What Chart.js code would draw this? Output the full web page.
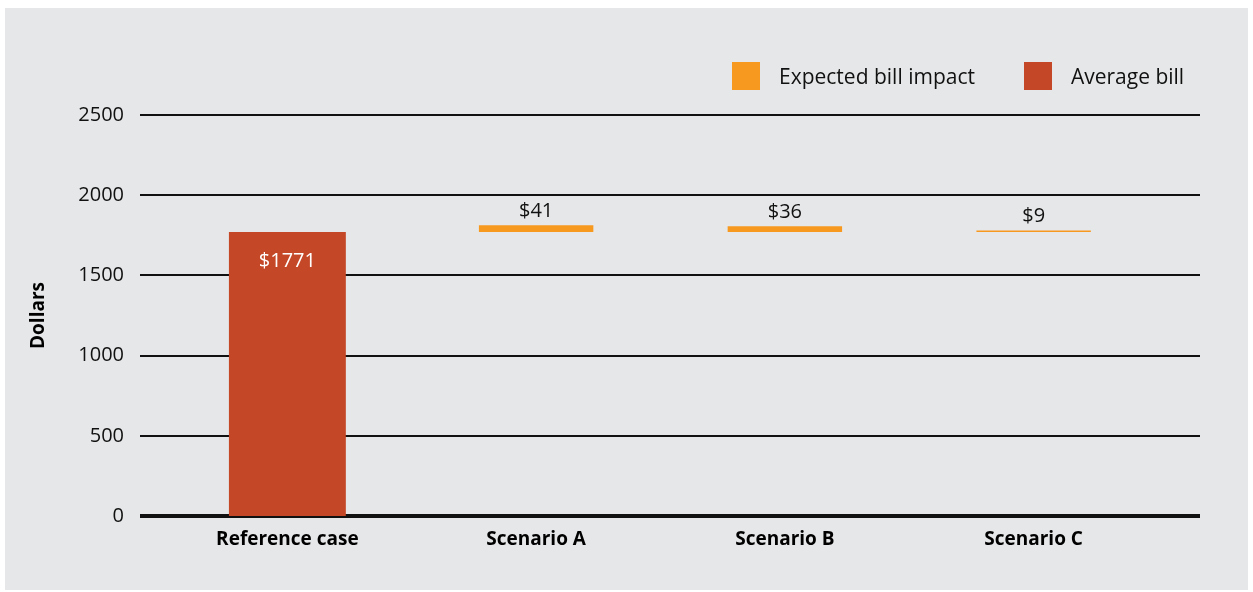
<!DOCTYPE html>
<html>
<head>
<meta charset="utf-8">
<script src="https://cdn.jsdelivr.net/npm/chart.js@4"></script>
<style>
  body { margin: 0; background: #fff; }
  #panel { position: absolute; left: 5px; top: 8px; width: 1243px; height: 582px; background: #e6e7e8; }
  #wrap { position: absolute; left: 0; top: 0; width: 1253px; height: 592px; }
  #legend { position: absolute; top: 62px; left: 732px; font-family: 'Open Sans', sans-serif; font-size: 21px; color: #111; display: flex; }
  .item { display: flex; align-items: center; height: 28px; }
  .box { width: 28px; height: 28px; margin-right: 19px; }
</style>
</head>
<body>
<div id="panel"></div>
<div id="wrap"><canvas id="billChart" width="1253" height="592"></canvas></div>
<div id="legend">
  <div class="item" style="margin-right:49px"><span class="box" style="background:#f7981f"></span>Expected bill impact</div>
  <div class="item"><span class="box" style="background:#c44727"></span>Average bill</div>
</div>
<script>
const categories = ['Reference case', 'Scenario A', 'Scenario B', 'Scenario C'];
const averageBill = [1771, null, null, null];
const billImpact = [null, 41, 36, 9];
const impactBase = 1771;
const yTicks = [0, 500, 1000, 1500, 2000, 2500];

const impactBars = billImpact.map(v => v == null ? null : [impactBase, impactBase + v]);

// horizontal rules drawn wider than the chart area, under the bars
const ruleLines = {
  id: 'ruleLines',
  beforeDatasetsDraw(chart) {
    const ctx = chart.ctx;
    const y = chart.scales.y;
    ctx.save();
    ctx.strokeStyle = '#111';
    yTicks.forEach(t => {
      const py = Math.round(y.getPixelForValue(t));
      ctx.lineWidth = t === 0 ? 4 : 2;
      ctx.beginPath();
      ctx.moveTo(140, py);
      ctx.lineTo(1200, py);
      ctx.stroke();
    });
    ctx.restore();
  }
};

const valueLabels = {
  id: 'valueLabels',
  afterDatasetsDraw(chart) {
    const ctx = chart.ctx;
    ctx.save();
    ctx.font = '20px "Open Sans"';
    ctx.textAlign = 'center';
    ctx.textBaseline = 'middle';
    chart.getDatasetMeta(0).data.forEach((bar, i) => {
      if (averageBill[i] == null) return;
      ctx.fillStyle = '#fff';
      ctx.fillText('$' + averageBill[i], bar.x, bar.y + 29);
    });
    chart.getDatasetMeta(1).data.forEach((bar, i) => {
      if (billImpact[i] == null) return;
      ctx.fillStyle = '#111';
      ctx.fillText('$' + billImpact[i], bar.x, bar.y - 14);
    });
    ctx.restore();
  }
};

const ctx = document.getElementById('billChart').getContext('2d');

new Chart(ctx, {
  type: 'bar',
  data: {
    labels: categories,
    datasets: [{
      label: 'Average bill',
      data: averageBill,
      backgroundColor: '#c44727',
      grouped: false,
      barPercentage: 0.47,
      categoryPercentage: 1
    }, {
      label: 'Expected bill impact',
      data: impactBars,
      backgroundColor: '#f7981f',
      grouped: false,
      barPercentage: 0.46,
      categoryPercentage: 1
    }]
  },
  options: {
    responsive: false,
    animation: false,
    layout: { padding: { left: 0, right: 95, top: 115, bottom: 0 } },
    plugins: {
      legend: { display: false },
      tooltip: { enabled: false }
    },
    scales: {
      y: {
        min: 0,
        max: 2500,
        afterFit: s => { s.width = 163; },
        ticks: {
          stepSize: 500,
          padding: 39,
          color: '#111',
          font: { family: 'Open Sans', size: 20 },
          callback: v => String(v)
        },
        grid: { display: false, drawTicks: false },
        border: { display: false },
        title: {
          display: true,
          text: 'Dollars',
          color: '#000',
          font: { family: 'Open Sans', size: 19, weight: 'bold' },
          padding: { top: 27, bottom: 0 }
        }
      },
      x: {
        afterFit: s => { s.height = 76; },
        ticks: {
          padding: 12,
          color: '#000',
          font: { family: 'Open Sans', size: 19, weight: 'bold' }
        },
        grid: { display: false, drawTicks: false },
        border: { display: false }
      }
    }
  },
  plugins: [ruleLines, valueLabels]
});
</script>
</body>
</html>
